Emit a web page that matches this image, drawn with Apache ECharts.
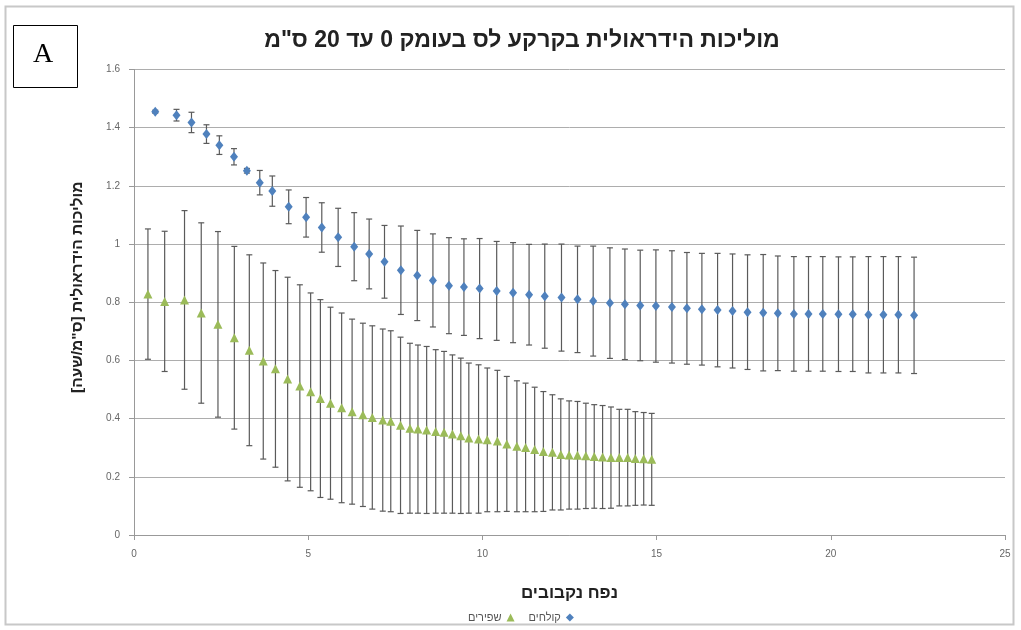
<!DOCTYPE html>
<html>
<head>
<meta charset="utf-8">
<script src="https://cdn.jsdelivr.net/npm/echarts@6/dist/echarts.min.js"></script>
<style>
  html, body { margin: 0; padding: 0; background: #fff; }
  #chart { width: 1021px; height: 630px; }
</style>
</head>
<body>
<div id="chart"></div>
<script>
// series names (legend)
const nameBlue = 'קולחים'
const nameGreen = 'שפירים'

// קולחים : x, mean, +/- error
const blueX = [0.61, 1.22, 1.65, 2.08, 2.45, 2.87, 3.24, 3.61, 3.97, 4.44,
  4.94, 5.39, 5.86, 6.32, 6.75, 7.19, 7.66, 8.13, 8.58, 9.04,
  9.47, 9.92, 10.41, 10.88, 11.34, 11.79, 12.27, 12.73, 13.18, 13.66,
  14.09, 14.53, 14.98, 15.44, 15.87, 16.30, 16.75, 17.18, 17.61, 18.06,
  18.48, 18.94, 19.36, 19.77, 20.22, 20.63, 21.08, 21.51, 21.94, 22.39]
const blueY = [1.455, 1.443, 1.418, 1.378, 1.340, 1.300, 1.252, 1.211, 1.182, 1.128,
  1.092, 1.057, 1.023, 0.991, 0.966, 0.939, 0.910, 0.892, 0.875, 0.857,
  0.852, 0.847, 0.839, 0.833, 0.826, 0.821, 0.816, 0.810, 0.804, 0.797,
  0.793, 0.789, 0.787, 0.784, 0.779, 0.776, 0.773, 0.770, 0.766, 0.764,
  0.762, 0.760, 0.760, 0.760, 0.759, 0.759, 0.757, 0.757, 0.757, 0.755]
const blueErr = [0.005, 0.02, 0.035, 0.032, 0.032, 0.028, 0.008, 0.042, 0.052, 0.058,
  0.068, 0.085, 0.10, 0.117, 0.12, 0.125, 0.152, 0.155, 0.16, 0.165,
  0.166, 0.172, 0.17, 0.172, 0.173, 0.179, 0.184, 0.183, 0.189, 0.19,
  0.19, 0.19, 0.193, 0.193, 0.192, 0.192, 0.195, 0.196, 0.197, 0.2,
  0.197, 0.197, 0.197, 0.197, 0.197, 0.197, 0.2, 0.2, 0.2, 0.2]

// שפירים : x, mean, +/- error
const greenX = [0.40, 0.88, 1.45, 1.93, 2.41, 2.88, 3.31, 3.71, 4.06, 4.41,
  4.76, 5.07, 5.35, 5.64, 5.96, 6.26, 6.57, 6.84, 7.14, 7.37,
  7.65, 7.92, 8.15, 8.40, 8.66, 8.90, 9.14, 9.38, 9.61, 9.89,
  10.14, 10.43, 10.70, 10.99, 11.24, 11.50, 11.75, 12.01, 12.25, 12.49,
  12.73, 12.97, 13.21, 13.45, 13.69, 13.93, 14.17, 14.39, 14.63, 14.86]
const greenY = [0.828, 0.803, 0.808, 0.763, 0.724, 0.678, 0.635, 0.598, 0.571, 0.536,
  0.512, 0.492, 0.469, 0.453, 0.437, 0.424, 0.413, 0.404, 0.395, 0.391,
  0.377, 0.367, 0.364, 0.361, 0.356, 0.353, 0.347, 0.341, 0.333, 0.330,
  0.327, 0.323, 0.313, 0.305, 0.301, 0.294, 0.287, 0.284, 0.277, 0.275,
  0.274, 0.272, 0.270, 0.268, 0.266, 0.266, 0.266, 0.263, 0.262, 0.260]
const greenErr = [0.224, 0.241, 0.307, 0.310, 0.319, 0.314, 0.328, 0.337, 0.338, 0.350,
  0.348, 0.340, 0.340, 0.330, 0.326, 0.318, 0.315, 0.315, 0.313, 0.311,
  0.303, 0.292, 0.289, 0.287, 0.281, 0.278, 0.272, 0.267, 0.258, 0.255,
  0.247, 0.243, 0.232, 0.225, 0.221, 0.214, 0.206, 0.198, 0.191, 0.186,
  0.185, 0.181, 0.178, 0.177, 0.174, 0.166, 0.166, 0.161, 0.159, 0.158]

const toPoints = (xs, ys, es) => xs.map((x, i) => [x, ys[i], es[i]])

// vertical error bar with caps, drawn through the axes
function renderErrorBar(params, api) {
  const x = api.value(0)
  const y = api.value(1)
  const e = api.value(2)
  const top = api.coord([x, y + e])
  const bot = api.coord([x, y - e])
  const cap = 3
  const style = { stroke: '#5a5a5a', lineWidth: 1.2 }
  return {
    type: 'group',
    children: [
      { type: 'line', shape: { x1: top[0], y1: top[1], x2: bot[0], y2: bot[1] }, style },
      { type: 'line', shape: { x1: top[0] - cap, y1: top[1], x2: top[0] + cap, y2: top[1] }, style },
      { type: 'line', shape: { x1: bot[0] - cap, y1: bot[1], x2: bot[0] + cap, y2: bot[1] }, style },
    ],
  }
}

const labelStyle = { color: '#666', fontSize: 10, fontFamily: 'Liberation Sans' }

const chart = echarts.init(document.getElementById('chart'), null, { renderer: 'canvas' })
chart.setOption({
  animation: false,
  backgroundColor: '#fff',
  title: {
    text: 'מוליכות הידראולית בקרקע לס בעומק 0 עד 20 ס"מ',
    left: 517,
    textAlign: 'center',
    top: 24,
    textStyle: { fontFamily: 'Liberation Sans', fontSize: 23, fontWeight: 'bold', color: '#222' },
  },
  graphic: [
    {
      type: 'rect',
      shape: { x: 5.5, y: 6.5, width: 1008, height: 618 },
      style: { fill: null, stroke: '#c8c8c8', lineWidth: 2 },
      silent: true,
    },
    {
      type: 'rect',
      shape: { x: 13.5, y: 25.5, width: 64, height: 62 },
      style: { fill: '#fff', stroke: '#000', lineWidth: 1 },
      silent: true,
    },
    {
      type: 'text',
      left: 33,
      top: 41,
      style: { text: 'A', fontFamily: 'Liberation Serif', fontSize: 28, fill: '#000' },
      silent: true,
    },
  ],
  legend: {
    data: [nameGreen, nameBlue],
    left: 463,
    top: 607,
    align: 'right',
    itemWidth: 8,
    itemHeight: 8,
    itemGap: 14,
    textStyle: { color: '#555', fontSize: 11, fontFamily: 'Liberation Sans' },
  },
  grid: { left: 134, right: 16, top: 69.5, bottom: 95 },
  xAxis: {
    type: 'value',
    min: 0,
    max: 25,
    interval: 5,
    name: 'נפח נקבובים',
    nameLocation: 'middle',
    nameGap: 50,
    nameTextStyle: { fontFamily: 'Liberation Sans', fontSize: 17, fontWeight: 'bold', color: '#222' },
    axisLine: { lineStyle: { color: '#999' } },
    axisTick: { length: 5, lineStyle: { color: '#999' } },
    axisLabel: Object.assign({ margin: 14 }, labelStyle),
    splitLine: { show: false },
  },
  yAxis: {
    type: 'value',
    min: 0,
    max: 1.6,
    interval: 0.2,
    name: 'מוליכות הידראולית [ס"מ/שעה]\u200F',
    nameLocation: 'middle',
    nameGap: 48,
    nameTextStyle: {
      fontFamily: 'Liberation Sans', fontSize: 15.5, fontWeight: 'bold', color: '#222',
      padding: [0, 0, 0, 30],
    },
    axisLine: { show: true, lineStyle: { color: '#999' } },
    axisTick: { show: true, length: 5, lineStyle: { color: '#999' } },
    axisLabel: Object.assign({ margin: 14 }, labelStyle),
    splitLine: { lineStyle: { color: '#adadad', width: 1 } },
  },
  series: [
    {
      name: 'err-blue',
      type: 'custom',
      renderItem: renderErrorBar,
      data: toPoints(blueX, blueY, blueErr),
      z: 2,
    },
    {
      name: 'err-green',
      type: 'custom',
      renderItem: renderErrorBar,
      data: toPoints(greenX, greenY, greenErr),
      z: 2,
    },
    {
      name: nameBlue,
      type: 'scatter',
      symbol: 'diamond',
      symbolSize: [8, 10],
      itemStyle: { color: '#4f81bd', opacity: 1 },
      data: blueX.map((x, i) => [x, blueY[i]]),
      z: 3,
    },
    {
      name: nameGreen,
      type: 'scatter',
      symbol: 'triangle',
      symbolSize: [9, 9],
      itemStyle: { color: '#9bbb59', opacity: 1 },
      data: greenX.map((x, i) => [x, greenY[i]]),
      z: 3,
    },
  ],
})
</script>
</body>
</html>
